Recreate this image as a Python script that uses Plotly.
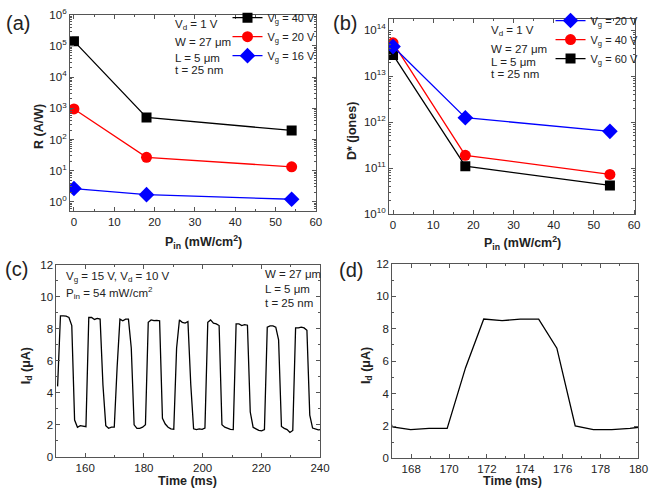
import plotly.graph_objects as go

W, H = 660, 503
FONT = "Liberation Sans, Arial, sans-serif"

# ---------------- data ----------------
P_in = [0, 18, 54]
R_vg40 = [1.43e5, 511, 195]
R_vg20 = [955, 26.7, 13.3]
R_vg16 = [2.67, 1.7, 1.21]

D_vg20 = [4.4e13, 1.25e12, 6.3e11]
D_vg40 = [5.3e13, 1.9e11, 7.3e10]
D_vg60 = [2.9e13, 1.1e11, 4.2e10]

time_ms = [150.60, 151.57, 152.53, 153.50, 154.46, 155.43, 156.39, 157.36, 158.32, 159.29,
           160.25, 161.22, 162.18, 163.15, 164.11, 165.08, 166.04, 167.01, 167.97, 168.94,
           169.90, 170.87, 171.83, 172.80, 173.76, 174.73, 175.69, 176.66, 177.62, 178.59,
           179.55, 180.52, 181.48, 182.45, 183.41, 184.38, 185.34, 186.31, 187.27, 188.24,
           189.20, 190.17, 191.13, 192.10, 193.06, 194.03, 194.99, 195.96, 196.92, 197.89,
           198.85, 199.82, 200.78, 201.75, 202.71, 203.68, 204.64, 205.61, 206.57, 207.54,
           208.50, 209.47, 210.43, 211.40, 212.36, 213.33, 214.29, 215.26, 216.22, 217.19,
           218.15, 219.12, 220.08, 221.05, 222.01, 222.98, 223.94, 224.91, 225.87, 226.84,
           227.80, 228.77, 229.73, 230.70, 231.66, 232.63, 233.59, 234.56, 235.52, 236.49,
           237.45, 238.42, 239.38, 240.35]
Id_uA = [4.4, 8.8, 8.8, 8.78, 8.7, 8.2, 2.3, 1.85, 1.95, 1.9,
         1.88, 8.7, 8.7, 8.58, 8.65, 8.6, 4.5, 1.95, 1.78, 1.85,
         1.85, 5.6, 8.6, 8.5, 8.6, 8.6, 6.8, 2.0, 1.78, 1.78,
         1.85, 2.0, 8.4, 8.55, 8.5, 8.52, 8.5, 2.4, 2.05, 1.85,
         1.75, 1.72, 6.8, 8.55, 8.4, 8.35, 8.45, 4.5, 1.75, 1.7,
         1.75, 1.72, 1.8, 8.4, 8.55, 8.35, 8.3, 8.2, 2.0, 1.85,
         1.78, 1.72, 1.7, 8.3, 8.3, 8.2, 8.25, 8.22, 2.8, 1.85,
         1.75, 1.65, 1.62, 1.7, 8.1, 8.18, 8.18, 8.1, 7.3, 1.9,
         1.78, 1.7, 1.52, 1.65, 8.05, 8.05, 8.1, 8.05, 7.9, 2.6,
         1.8, 1.75, 1.68, 1.7]

log_tick_vals_a = [0, 1, 2, 3, 4, 5, 6]
log_tick_text_a = ["10<sup>0</sup>", "10<sup>1</sup>", "10<sup>2</sup>", "10<sup>3</sup>",
                   "10<sup>4</sup>", "10<sup>5</sup>", "10<sup>6</sup>"]
log_tick_vals_b = [10, 11, 12, 13, 14]
log_tick_text_b = ["10<sup>10</sup>", "10<sup>11</sup>", "10<sup>12</sup>",
                   "10<sup>13</sup>", "10<sup>14</sup>"]
p_ticks = [0, 10, 20, 30, 40, 50, 60]
id_ticks = [0, 2, 4, 6, 8, 10, 12]
time_ticks_c = [160, 180, 200, 220, 240]
time_ticks_d = [168, 170, 172, 174, 176, 178, 180]

# ---------------- helpers ----------------
def px(x):
    return x / W

def py(y):
    return 1 - y / H

AX_COL = "#555555"
TICKFONT = dict(family=FONT, size=11.5, color="#222222")

def axis_common(**kw):
    d = dict(showline=True, linecolor=AX_COL, linewidth=1, mirror="allticks",
             ticks="inside", ticklen=4, tickcolor=AX_COL, showgrid=False, zeroline=False,
             tickfont=TICKFONT)
    d.update(kw)
    return d

fig = go.Figure()

# Panel (a)
fig.add_trace(go.Scatter(x=P_in, y=R_vg40, mode="lines+markers", name="V<sub>g</sub> = 40 V",
                         line=dict(color="black", width=1.3),
                         marker=dict(symbol="square", size=10, color="black"),
                         xaxis="x", yaxis="y", legend="legend"))
fig.add_trace(go.Scatter(x=P_in, y=R_vg20, mode="lines+markers", name="V<sub>g</sub> = 20 V",
                         line=dict(color="#ff0000", width=1.3),
                         marker=dict(symbol="circle", size=11, color="#ff0000"),
                         xaxis="x", yaxis="y", legend="legend"))
fig.add_trace(go.Scatter(x=P_in, y=R_vg16, mode="lines+markers", name="V<sub>g</sub> = 16 V",
                         line=dict(color="#0000ff", width=1.3),
                         marker=dict(symbol="diamond", size=12, color="#0000ff"),
                         xaxis="x", yaxis="y", legend="legend"))

# Panel (b) (drawn black, red, blue; legend reversed)
fig.add_trace(go.Scatter(x=P_in, y=D_vg60, mode="lines+markers", name="V<sub>g</sub> = 60 V",
                         line=dict(color="black", width=1.3),
                         marker=dict(symbol="square", size=10, color="black"),
                         xaxis="x2", yaxis="y2", legend="legend2"))
fig.add_trace(go.Scatter(x=P_in, y=D_vg40, mode="lines+markers", name="V<sub>g</sub> = 40 V",
                         line=dict(color="#ff0000", width=1.3),
                         marker=dict(symbol="circle", size=11, color="#ff0000"),
                         xaxis="x2", yaxis="y2", legend="legend2"))
fig.add_trace(go.Scatter(x=P_in, y=D_vg20, mode="lines+markers", name="V<sub>g</sub> = 20 V",
                         line=dict(color="#0000ff", width=1.3),
                         marker=dict(symbol="diamond", size=12, color="#0000ff"),
                         xaxis="x2", yaxis="y2", legend="legend2"))

# Panel (c)
fig.add_trace(go.Scatter(x=time_ms, y=Id_uA, mode="lines", showlegend=False,
                         line=dict(color="black", width=1.3), xaxis="x3", yaxis="y3"))
# Panel (d)
fig.add_trace(go.Scatter(x=time_ms, y=Id_uA, mode="lines", showlegend=False,
                         line=dict(color="black", width=1.3), xaxis="x4", yaxis="y4"))

minor_lin = lambda d: dict(ticks="inside", ticklen=2, tickcolor=AX_COL, dtick=d)
minor_log = dict(ticks="inside", ticklen=2, tickcolor=AX_COL, dtick="D1")

fig.update_layout(
    width=W, height=H, margin=dict(l=0, r=0, t=0, b=0),
    paper_bgcolor="white", plot_bgcolor="white",
    font=dict(family=FONT, size=12, color="#222222"),
    xaxis=axis_common(domain=[px(71), px(320.7)], range=[-1, 60], anchor="y",
                      tickvals=p_ticks, minor=minor_lin(5)),
    yaxis=axis_common(domain=[py(209), py(7)], type="log", range=[-0.3, 6], anchor="x",
                      tickvals=[10 ** v for v in log_tick_vals_a], ticktext=log_tick_text_a,
                      minor=minor_log),
    xaxis2=axis_common(domain=[px(395), px(645)], range=[-1, 60.3], anchor="y2",
                       tickvals=p_ticks, minor=minor_lin(5)),
    yaxis2=axis_common(domain=[py(212), py(11)], type="log", range=[10, 14.25], anchor="x2",
                       tickvals=[10 ** v for v in log_tick_vals_b], ticktext=log_tick_text_b,
                       minor=minor_log),
    xaxis3=axis_common(domain=[px(57.3), px(325)], range=[150.2, 240], anchor="y3",
                       tickvals=time_ticks_c, minor=minor_lin(10)),
    yaxis3=axis_common(domain=[py(461.7), py(264)], range=[0, 12], anchor="x3",
                       tickvals=id_ticks, minor=minor_lin(1)),
    xaxis4=axis_common(domain=[px(398.3), px(648.3)], range=[167, 180], anchor="y4",
                       tickvals=time_ticks_d, minor=minor_lin(1)),
    yaxis4=axis_common(domain=[py(463.3), py(263.3)], range=[0, 12], anchor="x4",
                       tickvals=id_ticks, minor=minor_lin(1)),
    legend=dict(x=px(231), y=py(-5), xanchor="left", yanchor="top",
                bgcolor="rgba(0,0,0,0)", font=dict(family=FONT, size=11, color="#222222"),
                tracegroupgap=0),
    legend2=dict(x=px(559), y=py(-2), xanchor="left", yanchor="top", traceorder="reversed",
                 bgcolor="rgba(0,0,0,0)", font=dict(family=FONT, size=11, color="#222222"),
                 tracegroupgap=0),
)

def ann(text, x, y, size=12, xanchor="left", bold=False, angle=0, color="#222222"):
    if bold:
        text = "<b>" + text + "</b>"
    fig.add_annotation(text=text, x=px(x), y=py(y), xref="paper", yref="paper",
                       xanchor=xanchor, yanchor="middle", showarrow=False, textangle=angle,
                       font=dict(family=FONT, size=size, color=color))

# panel labels
ann("(a)", 4, 15, size=20)
ann("(b)", 336, 15, size=20)
ann("(c)", 3, 268, size=20)
ann("(d)", 342, 270, size=20)

# axis titles
ann("R (A/W)", 39, 122, size=12.5, xanchor="center", bold=True, angle=-90)
ann("P<sub>in</sub> (mW/cm<sup>2</sup>)", 207, 241, size=12.5, xanchor="center", bold=True)
ann("D* (jones)", 358, 127, size=12.5, xanchor="center", bold=True, angle=-90)
ann("P<sub>in</sub> (mW/cm<sup>2</sup>)", 531, 242, size=12.5, xanchor="center", bold=True)
ann("I<sub>d</sub> (μA)", 27, 368, size=12.5, xanchor="center", bold=True, angle=-90)
ann("Time (ms)", 190, 487, size=12.5, xanchor="center", bold=True)
ann("I<sub>d</sub> (μA)", 372, 368, size=12.5, xanchor="center", bold=True, angle=-90)
ann("Time (ms)", 520, 487, size=12.5, xanchor="center", bold=True)

# panel (a) device info
ann("V<sub>d</sub> = 1 V", 176, 17, size=11.5)
ann("W = 27 μm", 176, 35, size=11.5)
ann("L = 5 μm", 176, 51.5, size=11.5)
ann("t = 25 nm", 176, 63.5, size=11.5)
# panel (b) device info
ann("V<sub>d</sub> = 1 V", 497, 24, size=11.5)
ann("W = 27 μm", 497, 42, size=11.5)
ann("L = 5 μm", 497, 56, size=11.5)
ann("t = 25 nm", 497, 68, size=11.5)
# panel (c) info
ann("V<sub>g</sub> = 15 V, V<sub>d</sub> = 10 V", 65, 277, size=11.5)
ann("P<sub>in</sub> = 54 mW/cm<sup>2</sup>", 65, 293, size=11.5)
ann("W = 27 μm", 267, 274, size=11.5)
ann("L = 5 μm", 267, 289.5, size=11.5)
ann("t = 25 nm", 267, 303.5, size=11.5)

fig.write_html("out.html", config={"displayModeBar": False},
               post_script="document.body.style.margin='0';")
